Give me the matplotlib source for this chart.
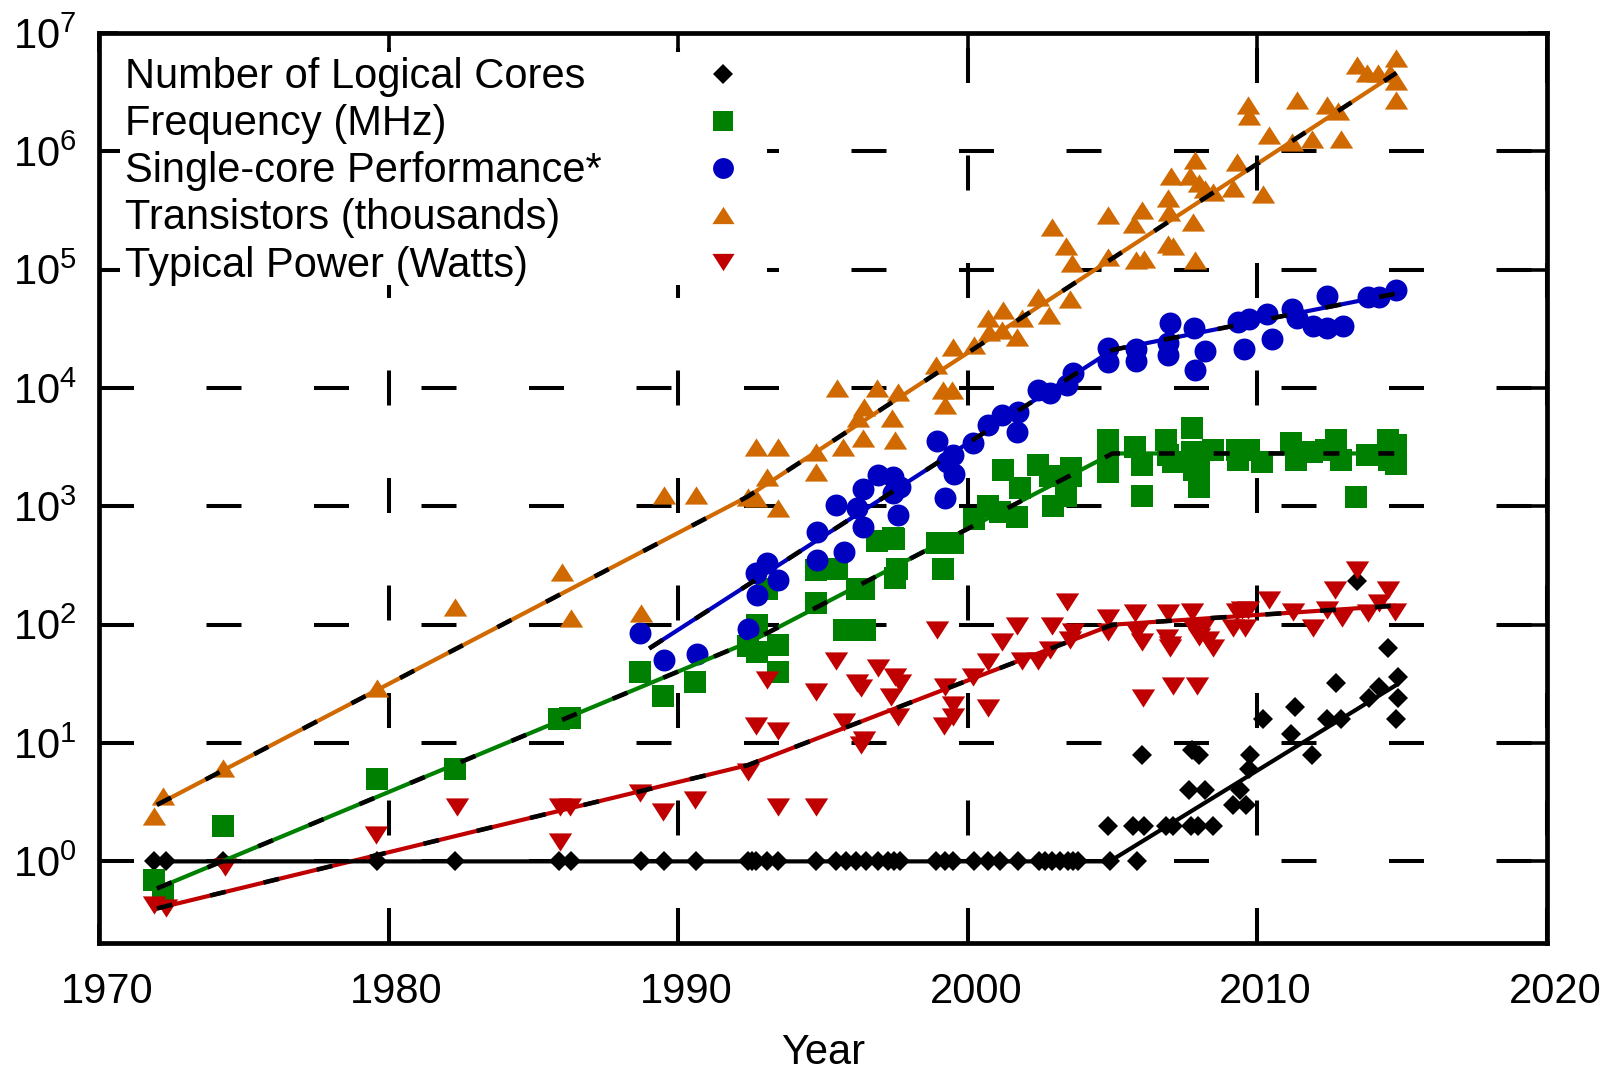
import numpy as np
import matplotlib
matplotlib.use('Agg')
import matplotlib.pyplot as plt
from matplotlib.path import Path
from matplotlib.patches import Rectangle
from matplotlib.ticker import FixedLocator, NullLocator, FixedFormatter
from matplotlib.transforms import ScaledTranslation

plt.rcParams['font.family'] = ['Liberation Sans', 'DejaVu Sans']
plt.rcParams['mathtext.fontset'] = 'custom'
plt.rcParams['mathtext.rm'] = 'Liberation Sans'
plt.rcParams['mathtext.it'] = 'Liberation Sans:italic'
plt.rcParams['mathtext.bf'] = 'Liberation Sans:bold'
plt.rcParams['lines.scale_dashes'] = False

# ---------------- data ----------------
series_labels = ["Number of Logical Cores", "Frequency (MHz)", "Single-core Performance*",
                 "Transistors (thousands)", "Typical Power (Watts)"]

cores_year = [1971.9, 1972.3, 1974.3, 1979.6, 1982.3, 1985.9, 1986.3, 1988.7, 1989.5, 1990.6,
              1992.4, 1992.55, 1992.7, 1993.05, 1993.45, 1994.75, 1995.45, 1995.8, 1996.15, 1996.5,
              1996.9, 1997.25, 1997.45, 1997.65, 1998.9, 1999.2, 1999.5, 2000.2, 2000.7, 2001.1,
              2001.75, 2002.45, 2002.65, 2002.9, 2003.2, 2003.45, 2003.65, 2003.8, 2004.9, 2005.85,
              2004.85, 2005.7, 2006.1, 2006.0, 2006.85, 2007.1, 2007.7, 2007.95, 2008.45, 2007.65,
              2008.2, 2007.75, 2008.0, 2009.15, 2009.6, 2009.4, 2009.7, 2009.75, 2010.2, 2011.15,
              2011.3, 2011.9, 2012.4, 2012.7, 2012.9, 2013.45, 2013.85, 2014.2, 2014.5, 2014.85,
              2014.85, 2014.8]
cores_val = [1, 1, 1, 1, 1, 1, 1, 1, 1, 1,
             1, 1, 1, 1, 1, 1, 1, 1, 1, 1,
             1, 1, 1, 1, 1, 1, 1, 1, 1, 1,
             1, 1, 1, 1, 1, 1, 1, 1, 1, 1,
             2, 2, 2, 8, 2, 2, 2, 2, 2, 4,
             4, 8.7, 8, 3, 3, 4, 6, 8, 16, 12,
             20, 8, 16, 32, 16, 235, 24, 30, 63, 36,
             24, 16]

freq_year = [1971.9, 1972.2, 1974.3, 1979.6, 1982.3, 1985.9, 1986.27, 1988.68, 1989.49, 1990.58,
             1992.42, 1992.73, 1992.73, 1993.05, 1993.45, 1993.45, 1994.75, 1994.75, 1995.47, 1995.73,
             1996.16, 1996.4, 1996.45, 1996.85, 1997.43, 1997.46, 1997.49, 1997.54, 1998.93, 1999.15,
             1999.48, 2000.2, 2000.7, 2001.1, 2001.23, 2001.7, 2001.8, 2002.43, 2002.84, 2002.93,
             2003.4, 2003.58, 2003.58, 2004.83, 2004.83, 2004.83, 2005.78, 2006.0, 2006.0, 2006.86,
             2006.9, 2007.1, 2007.75, 2007.75, 2007.8, 2008.0, 2008.0, 2008.48, 2009.28, 2009.33,
             2009.7, 2010.17, 2011.15, 2011.32, 2011.9, 2012.36, 2012.7, 2012.87, 2013.4, 2013.8,
             2014.5, 2014.56, 2014.8, 2014.8]
freq_val = [0.7, 0.53, 2.0, 5, 6, 16, 16.2, 40, 25, 33,
            66, 100, 59, 200, 67, 40, 290, 152, 295, 90,
            200, 200, 90, 510, 540, 525, 247, 295, 490, 295,
            490, 780, 1000, 900, 2030, 820, 1420, 2240, 1820, 1015,
            1220, 2100, 1790, 3650, 2560, 1960, 3200, 2240, 1225, 3650,
            2720, 2390, 4570, 2900, 2030, 2240, 1470, 3000, 3000, 2470,
            3000, 2390, 3420, 2470, 2900, 3000, 3650, 2470, 1210, 2720,
            3650, 2470, 3300, 2300]

perf_year = [1988.68, 1989.51, 1990.64, 1992.42, 1992.7, 1992.73, 1993.05, 1993.45, 1994.78, 1994.78,
             1995.45, 1995.73, 1996.16, 1996.37, 1996.37, 1996.9, 1997.43, 1997.43, 1997.6, 1997.66,
             1998.93, 1999.2, 1999.27, 1999.5, 1999.53, 2000.19, 2000.7, 2001.17, 2001.7, 2001.74,
             2002.43, 2002.84, 2003.41, 2003.64, 2004.83, 2004.83, 2005.8, 2005.8, 2006.9, 2006.92,
             2006.98, 2007.8, 2007.85, 2008.18, 2009.33, 2009.54, 2009.7, 2010.32, 2010.52, 2011.18,
             2011.35, 2011.92, 2012.42, 2012.42, 2012.94, 2013.83, 2014.2, 2014.78]
perf_val = [85, 50, 57, 92, 272, 179, 330, 239, 612, 353,
            1030, 415, 964, 675, 1400, 1850, 1780, 1290, 847, 1470,
            3570, 1170, 2390, 2720, 1880, 3420, 4880, 5930, 4280, 6310,
            9640, 9040, 10600, 13300, 21700, 16700, 21300, 16900, 19000, 23900,
            35300, 32000, 14200, 20700, 36400, 21300, 38000, 42300, 26000, 46300,
            38900, 33500, 60000, 32000, 33500, 59200, 59200, 67400]

trans_year = [1971.9, 1972.2, 1974.3, 1979.6, 1982.3, 1986.0, 1986.3, 1988.7, 1989.5, 1990.6,
              1992.4, 1992.7, 1992.7, 1993.05, 1993.45, 1993.45, 1994.75, 1994.75, 1995.47, 1995.7,
              1996.2, 1996.37, 1996.4, 1996.85, 1997.4, 1997.47, 1997.6, 1998.9, 1999.15, 1999.2,
              1999.46, 1999.5, 2000.2, 2000.7, 2000.72, 2001.17, 2001.23, 2001.7, 2001.86, 2002.43,
              2002.8, 2002.9, 2003.4, 2003.53, 2003.6, 2004.83, 2004.83, 2005.75, 2005.8, 2006.0,
              2006.1, 2006.9, 2006.9, 2006.95, 2007.0, 2007.1, 2007.67, 2007.76, 2007.85, 2007.85,
              2008.0, 2008.2, 2008.47, 2009.17, 2009.3, 2009.68, 2009.7, 2010.2, 2010.4, 2011.2,
              2011.35, 2011.9, 2012.4, 2012.8, 2012.9, 2013.43, 2013.8, 2014.17, 2014.58, 2014.8,
              2014.8, 2014.8]
trans_val = [2.4, 3.6, 6.2, 29, 140, 280, 113, 125, 1250, 1250,
             1200, 1175, 3200, 1780, 960, 3200, 2900, 1960, 10000, 3200,
             5600, 3760, 6900, 10000, 5560, 3640, 9300, 15700, 9600, 7200,
             9600, 22400, 23000, 39000, 29500, 31000, 46000, 27000, 39000, 59000,
             41500, 230000, 158000, 57000, 113000, 290000, 129000, 245000, 120000, 320000,
             123000, 400000, 166000, 310000, 620000, 158000, 620000, 254000, 850000, 121000,
             540000, 480000, 455000, 490000, 820000, 2460000, 2000000, 440000, 1380000, 1200000,
             2700000, 1260000, 2460000, 2200000, 1260000, 5370000, 4570000, 4570000, 4570000, 6200000,
             3900000, 2700000]

power_year = [1971.9, 1972.33, 1974.34, 1979.58, 1982.35, 1985.93, 1985.93, 1986.27, 1988.68, 1989.49,
              1990.58, 1992.42, 1992.7, 1993.05, 1993.45, 1993.45, 1994.75, 1994.75, 1995.45, 1995.73,
              1996.16, 1996.33, 1996.33, 1996.4, 1996.9, 1997.35, 1997.49, 1997.58, 1997.66, 1998.93,
              1999.19, 1999.2, 1999.48, 1999.48, 2000.19, 2000.7, 2000.7, 2001.17, 2001.7, 2001.87,
              2002.43, 2002.84, 2002.9, 2003.43, 2003.53, 2003.64, 2004.83, 2004.83, 2005.78, 2005.84,
              2006.0, 2006.06, 2006.87, 2006.9, 2006.97, 2006.99, 2007.1, 2007.73, 2007.78, 2007.9,
              2008.0, 2008.13, 2008.3, 2008.47, 2009.17, 2009.3, 2009.46, 2009.57, 2009.68, 2010.4,
              2011.24, 2011.92, 2012.4, 2012.68, 2012.93, 2013.44, 2013.83, 2014.19, 2014.52, 2014.75]
power_val = [0.43, 0.40, 0.9, 1.67, 2.9, 2.9, 1.47, 2.9, 3.8, 2.6,
             3.3, 5.7, 13.8, 34, 12.7, 2.9, 27, 2.9, 49, 15.2,
             32, 29, 9.6, 10.6, 43, 24.7, 36, 16.7, 32, 90,
             13.8, 30, 21, 16.7, 36, 48.8, 19.7, 72, 98, 49,
             49, 61, 98, 157, 74, 87.5, 113, 87.5, 125, 87.5,
             72, 24, 77, 125, 67.5, 63, 30.4, 129, 96, 30.4,
             79, 93, 74.5, 63, 93, 129, 133, 93, 133, 162,
             129, 93, 133, 198, 113, 290, 125, 152, 198, 129]

# piecewise trend lines (knots)
cores_fit_year = [1971.9, 2004.9, 2014.8]
cores_fit_val = [1, 1, 31]
freq_fit_year = [1972.0, 1992.6, 2005.0, 2014.8]
freq_fit_val = [0.59, 74, 2800, 2800]
perf_fit_year = [1989.0, 2005.0, 2014.8]
perf_fit_val = [63, 21000, 63000]
trans_fit_year = [1972.0, 1992.4, 2014.8]
trans_fit_val = [3.0, 1210, 4.6e6]
power_fit_year = [1972.0, 1992.4, 2005.0, 2014.8]
power_fit_val = [0.40, 6.5, 100, 145]

x_ticks = [1970, 1980, 1990, 2000, 2010, 2020]
y_exponents = [0, 1, 2, 3, 4, 5, 6, 7]

# ---------------- style ----------------
c_cores = 'black'
c_freq = '#008000'
c_perf = '#0000c0'
c_trans = '#d06a00'
c_power = '#c00000'

tri_up = Path([(0, 0.78), (-1, -0.78), (1, -0.78), (0, 0.78)],
              [Path.MOVETO, Path.LINETO, Path.LINETO, Path.CLOSEPOLY])
tri_dn = Path([(0, -0.78), (-1, 0.78), (1, 0.78), (0, -0.78)],
              [Path.MOVETO, Path.LINETO, Path.LINETO, Path.CLOSEPOLY])

styles = [
    (cores_year, cores_val, 'D', 10.2, c_cores),
    (freq_year, freq_val, 's', 15.8, c_freq),
    (perf_year, perf_val, 'o', 15.8, c_perf),
    (trans_year, trans_val, tri_up, 16.8, c_trans),
    (power_year, power_val, tri_dn, 16.8, c_power),
]

fig = plt.figure(figsize=(16.14, 10.72), dpi=100)
ax = fig.add_axes([0.0613, 0.1203, 0.8972, 0.8489])
ax.set_yscale('log')

for xs, ys, mk, ms, col in styles:
    ax.plot(xs, ys, linestyle='none', marker=mk, markersize=ms, color=col,
            markeredgewidth=0, zorder=2)

# trend lines: colored solid with black dashes on top
for fx, fy, col in [(freq_fit_year, freq_fit_val, c_freq),
                    (perf_fit_year, perf_fit_val, c_perf),
                    (trans_fit_year, trans_fit_val, c_trans),
                    (power_fit_year, power_fit_val, c_power)]:
    ax.plot(fx, fy, color=col, lw=3.0, zorder=3, solid_capstyle='butt')
    ax.plot(fx, fy, color='black', lw=3.3, zorder=3.5,
            linestyle=(0, (11.5, 28)), dash_capstyle='butt')
ax.plot(cores_fit_year, cores_fit_val, color='black', lw=3.0, zorder=3.5)

ax.set_xlim(1970, 2020)
ax.set_ylim(10 ** -0.69, 1e7)

ax.xaxis.set_major_locator(FixedLocator(x_ticks))
ax.xaxis.set_minor_locator(NullLocator())
ax.yaxis.set_major_locator(FixedLocator([10.0 ** e for e in y_exponents]))
ax.yaxis.set_minor_locator(NullLocator())
ax.yaxis.set_major_formatter(FixedFormatter([r'$\mathregular{10^{%d}}$' % e for e in y_exponents]))
ax.xaxis.set_major_formatter(FixedFormatter([str(v) for v in x_ticks]))

ax.set_axisbelow(True)
ax.grid(True, which='major', color='black', lw=2.9, linestyle=(0, (25.2, 52.2)))

ax.tick_params(which='major', direction='in', length=13.7, width=2.6,
               top=True, right=True, labelsize=30, colors='black')
ax.tick_params(axis='x', pad=21)
ax.tick_params(axis='y', pad=16)
for sp in ax.spines.values():
    sp.set_linewidth(3.4)
    sp.set_zorder(5)

ax.set_xlabel('Year', fontsize=30, labelpad=15)

# key (text left, marker column right), white background over the grid
ax.add_patch(Rectangle((0.0145, 0.723), 0.447, 0.256, transform=ax.transAxes,
                       facecolor='white', edgecolor='none', zorder=1))
text_base = [0.9396, 0.8874, 0.8363, 0.7846, 0.7324]
mark_y = [0.955, 0.903, 0.852, 0.800, 0.748]
for (xs, ys, mk, ms, col), lab, tb, my in zip(styles, series_labels, text_base, mark_y):
    ax.text(0.0183, tb, lab, transform=ax.transAxes, fontsize=30,
            ha='left', va='baseline', zorder=4)
    ax.plot([0.431], [my], transform=ax.transAxes, linestyle='none', marker=mk,
            markersize=ms * 0.95, color=col, markeredgewidth=0, clip_on=False, zorder=4)

ax.set_xlim(1970, 2020)
ax.set_ylim(10 ** -0.69, 1e7)

off = ScaledTranslation(8 / 100, 0, fig.dpi_scale_trans)
for lbl in ax.get_xticklabels():
    lbl.set_transform(lbl.get_transform() + off)

fig.savefig('out.png', dpi=100, facecolor='white')
